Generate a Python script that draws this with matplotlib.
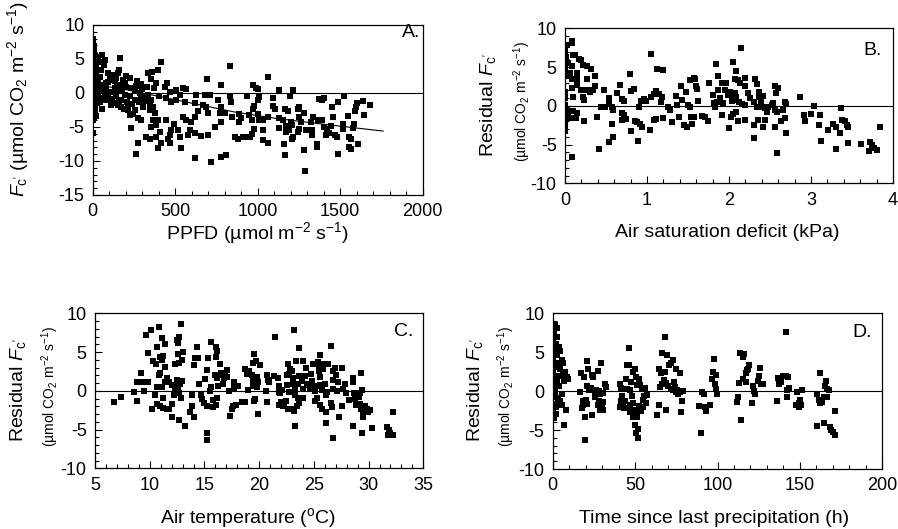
import matplotlib
matplotlib.use("Agg")
import matplotlib.pyplot as plt
from matplotlib.ticker import MultipleLocator

plt.rcParams["font.family"] = ["Liberation Sans", "DejaVu Sans"]
plt.rcParams["mathtext.fontset"] = "custom"
plt.rcParams["mathtext.rm"] = "Liberation Sans"
plt.rcParams["mathtext.it"] = "Liberation Sans:italic"
plt.rcParams["axes.unicode_minus"] = False

# ---- panel A: Fc' vs PPFD ----
ppfd = [3, 5, 2, 8, 4, 6, 10, 3, 12, 7,
        2, 15, 5, 9, 4, 18, 6, 11, 3, 20,
        8, 14, 2, 25, 5, 10, 7, 16, 3, 22,
        9, 4, 13, 6, 28, 2, 17, 8, 5, 12,
        3, 19, 7, 4, 24, 10, 6, 2, 14, 3,
        56, 72, 68, 167, 48, 103, 123, 157, 153, 204,
        224, 270, 295, 335, 361, 396, 416, 351, 386, 452,
        440, 466, 507, 547, 567, 527, 557, 472, 507, 446,
        400, 355, 365, 345, 376, 396, 365, 355, 386, 446,
        493, 517, 477, 547, 567, 598, 618, 638, 622, 668,
        689, 699, 628, 678, 709, 759, 779, 769, 800, 830,
        840, 844, 860, 779, 739, 699, 658, 618, 588, 577,
        527, 466, 406, 325, 345, 456, 386, 275, 260, 396,
        412, 466, 537, 618, 715, 779, 810, 230, 295, 275,
        224, 244, 174, 190, 153, 123, 109, 56, 210, 254,
        295, 315, 335, 305, 254, 214, 285, 254, 234, 204,
        174, 163, 133, 113, 93, 72, 62, 83, 103, 137,
        184, 194, 224, 143, 174, 83, 42, 32, 42, 32,
        42, 28, 36, 32,
        60, 78, 95, 118, 128, 148, 160, 178, 198, 212,
        238, 262, 280, 300, 318, 330, 348, 372, 90, 140,
        1060, 973, 989, 1127, 1215, 933, 1005, 999, 1090, 1195,
        1369, 1403, 1525, 1484, 1640, 1680, 1599, 1595, 1591, 1545,
        1646, 1448, 1458, 979, 973, 1094, 1106, 1163, 1181, 1242,
        1252, 1282, 888, 898, 888, 949, 965, 999, 1005, 1030,
        1060, 1131, 1151, 1201, 1252, 1262, 1322, 1337, 1363, 1389,
        1312, 1403, 1418, 1444, 1515, 1518, 1585, 1579, 1252, 1207,
        1171, 1131, 1171, 1191, 1242, 1292, 1329, 1034, 975, 878,
        908, 925, 953, 965, 1034, 1064, 1161, 1215, 1207, 1329,
        1357, 1357, 1413, 1434, 1470, 1478, 1551, 1565, 1555, 1565,
        1605, 1167, 1282, 1488, 1285, 690, 776, 830, 1000, 1390]
fc = [7.9, 7.5, 7.1, 6.9, 6.5, 6.2, 6.0, 5.7, 5.5, 5.2,
      4.9, 4.7, 4.4, 4.1, 3.8, 3.6, 3.3, 3.0, 2.7, 2.5,
      2.2, 1.9, 1.6, 1.4, 1.1, 0.8, 0.5, 0.3, 0.0, -0.2,
      -0.5, -0.8, -1.0, -1.3, -1.5, -1.8, -2.1, -2.3, -2.6, -2.9,
      -3.1, -3.4, -3.7, -4.0, 0.9, 2.0, -0.4, 1.2, 3.8, -5.9,
      5.6, 4.9, 4.1, 5.2, 3.4, 2.6, 2.6, 3.4, 2.9, 2.5,
      2.2, 1.7, 1.3, 2.9, 3.1, 3.4, 4.6, 2.0, 1.5, 1.5,
      0.9, 0.2, 0.4, 0.7, 0.6, -0.3, -1.3, -1.4, -1.0, -0.8,
      -0.5, -1.0, -2.0, -2.5, -3.0, -4.0, -4.0, -5.0, -4.7, -4.0,
      -4.5, -5.4, -5.4, -3.5, -4.0, -4.2, -3.5, -2.7, -1.5, -1.8,
      -2.0, -3.0, -0.3, -0.3, -0.3, -1.0, -2.0, -3.0, -3.0, -0.5,
      -1.3, -3.5, -6.4, -4.2, -5.0, -6.2, -6.3, -5.9, -5.4, -6.2,
      -6.5, -6.2, -5.7, -6.4, -6.7, -6.7, -6.4, -7.3, -8.9, -8.1,
      -7.3, -7.3, -8.1, -9.6, -10.2, -9.4, -9.1, -5.1, -3.9, -3.7,
      -3.2, -3.1, -2.1, -2.3, -1.8, -1.5, -1.8, -2.4, -1.3, -1.0,
      -0.8, -0.5, -0.3, -2.0, -2.5, -2.5, 0.0, 0.4, 0.7, 0.9,
      1.2, 0.4, 0.7, 0.2, -0.3, 0.2, 1.2, 1.4, 1.9, 1.7,
      1.9, -0.3, -0.5, -0.5, -1.0, -1.0, -1.3, -0.5, 0.4, 1.7,
      2.4, 3.4, 4.6, 5.3,
      -0.8, 0.9, 1.6, -0.9, 0.1, 1.0, -1.3, 0.3, 1.4, -1.8,
      -1.6, 1.0, -1.4, 0.6, -1.2, 0.9, -1.6, 0.7, 3.0, 2.2,
      2.3, 1.2, 0.7, 0.5, 0.5, -0.4, -0.6, -1.0, -0.8, -0.4,
      -0.9, -0.7, -0.5, -1.4, -1.2, -1.8, -1.5, -2.1, -2.7, -3.4,
      -3.2, -2.1, -3.6, -1.9, -2.4, -1.9, -2.4, -2.3, -2.7, -2.4,
      -2.1, -2.9, -3.1, -3.7, -4.2, -3.2, -3.9, -3.1, -4.0, -4.0,
      -3.5, -3.7, -4.0, -4.2, -3.6, -4.2, -4.2, -3.6, -3.9, -3.9,
      -5.4, -5.0, -5.3, -4.9, -4.6, -5.3, -4.5, -5.2, -5.3, -4.7,
      -4.9, -5.2, -5.7, -5.4, -5.7, -5.4, -5.4, -5.4, -5.3, -6.7,
      -6.5, -6.5, -6.4, -6.1, -6.9, -7.3, -7.5, -6.5, -6.8, -6.2,
      -7.5, -8.0, -6.2, -5.9, -6.2, -6.4, -6.5, -6.7, -8.0, -8.3,
      -7.5, -9.1, -8.4, -9.0, -11.5, 2.0, 1.2, 4.0, 0.6, -1.0]
fit_ppfd = [0, 200, 400, 600, 860, 1100, 1400, 1760]
fit_fc = [1.3, 0.5, -0.5, -1.5, -2.8, -3.7, -4.6, -5.6]

# ---- panel B: residual vs air saturation deficit ----
asd = [0.08, 0.09, 0.02, 0.0, 0.01, 0.10, 0.12, 0.04, 0.0, 0.0,
       0.02, 0.06, 0.09, 0.15, 0.15, 0.17, 0.19, 0.22, 0.27, 0.32,
       0.09, 0.36, 0.27, 0.15, 0.19, 0.22, 0.23, 0.27, 0.31, 0.37,
       0.34, 0.09, 0.10, 0.0, 0.0, 0.0, 0.02, 0.01, 0.0, 0.0,
       0.0, 0.04, 0.10, 0.15, 0.13, 0.06, 0.23, 0.08, 0.39, 0.48,
       0.44, 0.49, 0.54, 0.54, 0.57, 0.59, 0.57, 0.42, 0.54, 0.59,
       0.63, 0.67, 0.69, 0.72, 0.69, 0.72, 0.74, 0.69, 0.79, 0.80,
       0.84, 0.85, 0.88, 0.92, 0.94, 0.80, 0.89, 0.90, 0.93, 0.96,
       0.99, 1.05, 1.05, 1.09, 1.12, 1.11, 1.08, 1.11, 1.04, 1.19,
       1.15, 1.18, 1.17, 1.20, 1.26, 1.28, 1.30, 1.35, 1.37, 1.39,
       1.42, 1.43, 1.45, 1.47, 1.49, 1.50, 1.52, 1.53, 1.54, 1.55,
       1.57, 1.57, 1.58, 1.60, 1.61, 1.62, 1.67, 1.71, 1.74, 1.76,
       1.84, 1.81, 1.82, 1.83, 1.85, 1.87, 1.87, 1.89, 1.91, 1.91,
       1.93, 1.95, 2.15, 2.05, 2.08, 2.07, 2.11, 2.19, 2.13, 2.20,
       2.32, 2.34, 2.23, 1.96, 1.99, 2.01, 2.04, 2.07, 2.09, 2.03,
       2.08, 2.12, 2.16, 2.20, 2.26, 2.30, 2.37, 2.37, 2.42, 2.39,
       2.34, 2.40, 2.44, 2.46, 2.48, 2.52, 2.54, 2.56, 2.60, 2.57,
       2.56, 2.59, 2.68, 2.69, 2.63, 2.56, 2.70, 2.58, 2.31, 2.41,
       2.44, 2.35, 2.30, 2.19, 2.11, 2.02, 2.05, 2.09, 2.00, 2.68,
       2.66, 2.87, 3.04, 2.92, 2.93, 3.00, 3.11, 3.10, 3.12, 3.21,
       3.27, 3.31, 3.35, 3.37, 3.38, 3.41, 3.44, 3.45, 3.31, 3.45,
       3.61, 3.72, 3.74, 3.77, 3.71, 3.80, 3.84]
res_b = [8.4, 8.1, 7.8, 7.1, 6.3, 6.6, 6.6, 5.5, 4.8, 4.0,
         3.8, 4.2, 3.5, 4.2, 3.5, 6.1, 5.9, 5.3, 5.1, 4.8,
         5.1, 3.9, 3.4, 2.7, 2.0, 1.2, 0.8, 2.0, 1.8, 2.5,
         2.0, 2.3, 1.2, 1.8, 1.0, 0.1, -0.5, -1.2, -1.8, -2.5,
         -3.3, -0.9, -0.7, -0.9, -1.6, -1.6, -2.0, -6.6, -1.5, 2.0,
         -0.1, -0.2, 1.0, 0.2, -0.1, -0.5, -2.3, -5.6, -4.7, -4.0,
         1.6, 2.7, 0.9, 0.6, -0.9, -1.2, -1.7, -1.8, 4.1, 1.9,
         2.2, -1.9, -2.1, -2.4, -2.7, -3.3, -4.6, -0.1, 0.6, 0.9,
         0.6, 6.7, 1.1, 1.5, 4.8, 1.9, -1.8, -1.7, -3.1, 4.6,
         1.5, 1.2, 0.5, -1.6, -0.1, -0.5, -2.1, 1.3, 0.1, -1.5,
         2.5, 0.7, -2.5, 1.8, -2.7, 0.1, 3.3, -0.1, -1.4, -2.4,
         3.6, -1.4, 3.5, 2.5, 2.2, 0.6, -1.3, -1.5, -2.0, 2.9,
         5.4, 1.4, 0.3, -0.1, 0.5, 3.8, 2.0, 1.0, 3.0, -1.2,
         0.3, 2.0, 7.5, 5.7, 4.5, 3.5, 3.3, 3.6, 2.9, 2.5,
         3.5, 2.8, 1.6, 2.9, 1.4, 1.8, 1.4, 1.6, 1.2, 0.6,
         0.8, 0.5, 0.2, 0.1, 1.0, 0.5, 1.8, 1.2, 1.3, 0.5,
         -0.1, -0.1, -0.3, -0.8, -0.1, 0.1, 0.3, 2.5, 2.3, 1.6,
         -0.5, -0.8, 0.5, 0.2, -1.9, -2.8, -3.5, -6.1, -4.2, -2.7,
         -1.8, -1.8, -2.5, -1.8, -1.9, -1.5, -1.0, -0.8, -2.9, -1.6,
         -0.5, 1.2, 0.0, -1.2, -2.0, -1.0, -1.2, -2.5, -4.6, -3.1,
         -2.4, -2.7, -3.5, -0.3, -1.8, -1.9, -2.5, -2.7, -5.6, -4.8,
         -4.9, -4.7, -5.1, -5.4, -5.8, -5.7, -2.7]

# ---- panel C: residual vs air temperature ----
tair = [6.74, 7.35, 8.81, 8.57, 8.87, 9.42, 9.88, 9.18, 9.48, 9.67,
        10.12, 10.88, 9.88, 11.1, 10.7, 11.4, 10.34, 10.58, 10.95, 11.1,
        11.25, 11.4, 10.95, 10.88, 10.64, 11.1, 11.4, 11.6, 11.8, 12.0,
        10.49, 11.25, 10.64, 10.18, 10.95, 11.25, 11.55, 11.8, 12.0, 12.0,
        12.2, 12.32, 12.4, 12.47, 12.62, 12.77, 12.7, 12.84, 12.93, 12.62,
        12.32, 12.7, 12.93, 13.0, 12.47, 12.56, 12.7, 12.84, 12.7, 13.23,
        13.84, 13.69, 14.0, 13.84, 14.0, 14.15, 14.45, 14.36, 14.54, 14.76,
        14.66, 14.97, 15.21, 15.27, 15.27, 15.06, 15.21, 15.36, 15.52, 15.58,
        15.61, 15.76, 15.82, 16.07, 16.07, 16.19, 16.07, 16.0, 16.19, 16.28,
        16.43, 16.5, 16.74, 16.89, 16.74, 16.8, 17.1, 17.04, 17.2, 16.19,
        17.29, 17.5, 17.65, 17.9, 17.71, 17.71, 18.11, 18.4, 18.7, 19.0,
        18.7, 18.87, 19.1, 19.33, 19.48, 19.54, 19.54, 19.48, 19.42, 20.1,
        19.7, 21.44, 23.18, 23.66, 26.53, 25.55, 19.82, 19.91, 19.76, 19.6,
        20.74, 20.67, 19.91, 20.74, 20.83, 20.92, 21.35, 21.74, 21.83, 21.83,
        21.9, 22.05, 21.96, 21.83, 22.14, 22.26, 22.44, 22.66, 22.75, 22.5,
        22.5, 22.66, 22.81, 22.96, 22.75, 23.05, 23.1, 23.27, 23.27, 23.36,
        23.05, 23.18, 23.42, 23.27, 23.57, 23.66, 23.57, 23.66, 23.88, 24.03,
        23.97, 23.97, 24.18, 24.27, 24.33, 24.49, 24.64, 24.7, 24.79, 24.94,
        25.0, 25.1, 25.1, 25.19, 25.25, 25.4, 25.49, 25.49, 25.55, 25.55,
        25.7, 25.6, 25.7, 25.86, 25.92, 26.01, 26.1, 26.1, 26.22, 26.32,
        26.1, 26.53, 26.62, 26.71, 26.77, 26.77, 26.93, 27.02, 27.14, 27.23,
        27.32, 26.77, 27.54, 27.54, 27.69, 27.84, 27.93, 28.24, 28.54, 28.6,
        28.6, 28.66, 28.75, 28.85, 29.15, 29.21, 29.27, 29.36, 29.27, 29.21,
        29.46, 29.36, 29.52, 29.67, 29.82, 29.97, 30.13, 30.28, 31.71, 31.9,
        31.8, 32.2, 32.2, 32.0]
res_c = [-1.4, -0.8, -1.3, -0.1, 1.1, 1.1, 1.2, 2.3, 0.0, 7.2,
         7.9, 8.2, 4.9, 6.8, 5.7, 6.0, 3.8, 3.5, 4.4, 4.0,
         4.5, 3.1, 2.3, 2.0, 0.5, 0.5, 1.2, 1.6, 1.2, 0.8,
         -0.6, -0.9, -1.7, -2.3, -2.0, -2.2, -2.3, -2.3, -1.7, -3.4,
         -0.6, 0.1, 0.8, 1.4, 0.5, 0.9, -0.3, -0.9, 1.3, 4.7,
         3.5, 3.6, 4.0, 5.0, 6.5, 6.2, 6.9, 8.6, -3.8, -4.5,
         -2.0, -2.7, -3.4, -0.6, 3.3, 4.2, 4.2, 5.7, 0.9, -1.1,
         -0.5, -1.6, -1.9, -5.5, -6.4, 1.5, 2.7, 4.3, 0.0, 0.5,
         6.3, -1.2, -2.1, -1.8, 5.6, 5.1, 4.4, 2.0, 1.6, 0.6,
         3.5, 2.3, 2.1, 2.2, 0.9, 1.6, 2.7, 1.8, 0.0, -0.9,
         -3.2, -2.4, -1.9, -1.8, 0.4, 1.2, 0.6, -1.5, -1.5, 0.1,
         2.8, 2.2, 2.5, 2.0, 3.6, 4.8, -1.3, 1.3, 0.6, 3.3,
         3.9, 6.9, 7.8, 5.5, 5.8, 4.6, 1.8, 1.1, 0.5, -1.1,
         -1.4, 0.0, -3.0, 2.0, 1.4, 1.1, 1.9, 1.6, 0.6, -0.1,
         -0.3, 0.1, -1.4, -1.8, -1.9, -1.7, -1.3, -2.3, -0.1, 0.8,
         2.0, 3.5, 2.8, 2.5, 2.2, 1.6, 0.9, 0.1, -0.6, 3.9,
         -2.4, -2.6, -2.0, -4.5, -0.9, -1.6, 0.9, 1.9, 1.3, 3.8,
         0.2, -0.9, 1.9, 3.0, 0.8, 0.9, 0.3, 2.2, 1.3, 3.5,
         0.5, 0.0, -1.3, 0.6, -0.9, 3.7, 3.1, 2.5, 1.8, 0.8,
         0.1, -1.8, -2.4, 2.8, 3.4, 0.9, -0.6, -2.7, -0.1, 3.5,
         -4.1, -1.6, -2.1, 0.3, 1.4, 2.5, 2.9, 2.0, 0.0, 1.1,
         -3.4, -6.1, 3.0, -1.9, 0.3, 0.9, -0.3, -1.2, -4.5, 1.2,
         1.6, -0.3, -1.1, -1.8, -0.8, -0.3, 2.3, 0.1, -2.4, -1.7,
         -2.6, -5.5, -3.4, -2.0, -2.3, -2.7, -2.5, -4.8, -4.7, -5.1,
         -5.7, -5.7, -2.7, -5.4]

# ---- panel D: residual vs time since last precipitation ----
tsp = [1.4, 2.4, 0.8, 2.8, 0.2, 2.0, 4.0, 0.8, 4.4, 2.4,
       0.2, 5.4, 3.4, 6.4, 1.4, 4.4, 7.5, 0.4, 6.0, 8.5,
       9.5, 2.4, 6.9, 0.2, 4.0, 1.4, 0.2, 3.4, 0.8, 5.4,
       8.1, 0.2, 2.0, 0.8, 6.9, 5.4, 4.4, 0.3, 0.4, 1.0,
       2.0, 3.0, 1.5,
       20.6, 17.0, 19.2, 21.6, 23.6, 24.7, 27.7, 29.3, 21.0, 22.2,
       23.0, 25.7, 26.3, 28.3, 28.7, 30.3, 31.7, 32.3, 16.6, 18.6,
       20.2, 18.2, 17.6, 20.6, 19.6, 23.6, 25.7, 28.3, 27.7, 29.1,
       29.7, 30.3, 28.7, 30.7, 19.6,
       40.8, 41.2, 41.9, 41.2, 40.8, 42.5, 43.9, 43.3, 44.9, 44.5,
       44.9, 46.5, 46.3, 44.9, 46.9, 47.3, 47.9, 48.5, 46.9, 47.9,
       46.9, 48.9, 49.9, 50.6, 51.4, 52.6, 53.0, 54.0, 56.0, 55.4,
       56.6, 55.0, 54.6, 52.6, 51.4, 49.9, 48.5, 51.4, 53.0, 49.9,
       52.0, 50.6, 52.0, 53.4, 57.4,
       68.2, 66.1, 69.2, 64.7, 65.5, 68.2, 70.8, 71.6, 73.2, 74.8,
       77.3, 67.5, 68.8, 70.2, 65.1, 66.1, 71.6, 73.2, 74.8, 76.2,
       77.3, 78.9, 75.6, 73.6, 74.2, 64.7, 68.8, 63.5, 78.3, 77.7,
       88.7, 90.8, 91.6, 92.2, 92.8, 95.6, 90.2, 97.6, 97.2, 98.9,
       96.8, 98.3, 98.9, 99.7, 113.8, 115.4, 115.9, 113.0, 115.4, 117.1,
       117.5, 118.1, 119.1, 118.5, 112.4, 112.0, 114.4, 121.1, 121.9, 122.5,
       121.5, 124.5, 125.2, 126.0, 126.6, 127.6, 141.3, 136.1, 136.7, 138.1,
       137.3, 138.7, 139.7, 141.3, 142.8, 142.2, 143.4, 142.2, 148.2, 147.8,
       149.4, 150.2, 150.9, 149.4, 151.5, 160.4, 162.0, 161.6, 162.4, 163.6,
       164.4, 165.0, 166.0, 166.4, 167.6, 166.4, 160.4, 164.4, 168.4, 169.1,
       170.1, 171.1, 171.1]
res_d = [8.5, 8.1, 7.4, 7.0, 6.6, 6.1, 5.7, 5.5, 5.1, 4.6,
         4.4, 4.0, 3.6, 3.6, 3.1, 2.9, 2.5, 2.3, 2.1, 1.8,
         1.6, 1.4, 1.3, 0.8, 0.6, -0.1, -0.7, -0.9, -1.6, -1.8,
         -2.4, -2.4, -2.9, -3.4, -4.4, -0.4, -1.2, 1.8, 3.6, 5.0,
         -2.0, 2.0, 0.3,
         3.9, 2.3, 1.8, 2.8, 2.1, 1.8, 2.6, 3.6, 0.6, 0.1,
         0.4, -0.1, 0.1, 0.0, -0.3, -0.2, 0.9, 0.5, -0.1, -1.2,
         -1.1, -1.8, -2.2, -1.6, -3.3, -3.0, -0.8, -1.2, -1.8, -1.7,
         -2.2, -2.4, -2.4, -1.4, -6.3,
         0.9, 0.4, -0.6, -1.2, -2.0, -1.8, -1.2, -2.2, -2.2, 1.6,
         3.3, 3.4, 5.6, 0.3, 0.1, 1.2, -0.6, -1.5, -1.8, -2.4,
         -2.7, 2.5, 2.9, 1.8, 0.8, 1.6, 0.8, 0.3, 0.4, -0.6,
         -1.5, -1.1, -2.0, -1.9, -2.4, -2.9, -3.3, -3.3, -2.4, -4.4,
         -4.8, -5.4, -6.0, -2.5, -0.5,
         6.9, 4.9, 4.6, 2.9, 2.3, 2.5, 3.3, 3.6, 4.0, 2.9,
         2.3, 1.4, 1.0, 0.6, 0.5, 0.9, 0.3, 0.1, -0.1, -0.4,
         -0.1, 0.0, 0.1, 1.2, 0.5, -1.8, -2.4, -3.1, -1.3, -2.7,
         -1.9, -0.1, -0.4, -2.0, -2.5, -1.8, -5.4, 4.1, 2.5, 2.1,
         1.6, 0.9, 0.3, -0.3, 4.9, 4.4, 4.8, 1.1, 1.6, 1.2,
         2.3, 2.7, 3.4, 2.9, -0.8, -1.4, -3.7, -1.5, 0.0, -0.3,
         0.6, 1.3, 1.9, 3.0, 0.9, 0.9, 7.6, -1.3, 1.7, 1.6,
         0.9, 1.2, 1.9, 2.0, 1.8, 0.1, 0.4, -0.7, -0.1, -1.8,
         -1.5, -1.1, -1.8, -2.0, 0.1, -0.3, 2.3, -1.1, -1.5, -1.4,
         -0.8, 0.6, 1.3, 0.3, 0.1, -0.8, -4.5, -4.1, -4.6, -5.0,
         -5.3, -5.6, -2.5]

ylab_big = r"Residual $F_{\mathrm{c}^{\prime}}$"
ylab_small = r"(µmol CO$_2$ m$^{-2}$ s$^{-1}$)"


def style(ax, xmaj, xmin, ymaj, ymin):
    ax.xaxis.set_major_locator(MultipleLocator(xmaj))
    ax.xaxis.set_minor_locator(MultipleLocator(xmin))
    ax.yaxis.set_major_locator(MultipleLocator(ymaj))
    ax.yaxis.set_minor_locator(MultipleLocator(ymin))
    ax.tick_params(which="both", direction="in", top=False, right=False,
                   labelsize=13, pad=6, width=0.8)
    ax.tick_params(which="major", length=5)
    ax.tick_params(which="minor", length=3)
    for sp in ax.spines.values():
        sp.set_linewidth(0.9)


fig = plt.figure(figsize=(8.98, 5.29), dpi=100)
ax_a = fig.add_axes([0.1032, 0.6314, 0.3675, 0.3214])
ax_b = fig.add_axes([0.6292, 0.6535, 0.3653, 0.2930])
ax_c = fig.add_axes([0.1058, 0.1147, 0.3656, 0.2930])
ax_d = fig.add_axes([0.6155, 0.1134, 0.3670, 0.2943])

mk = dict(marker="s", s=16, color="black", linewidths=0, zorder=3)

# A
ax_a.scatter(ppfd, fc, **mk)
ax_a.axhline(0, color="black", lw=0.8)
ax_a.plot(fit_ppfd, fit_fc, color="black", lw=0.8)
ax_a.set_xlim(0, 2000)
ax_a.set_ylim(-15, 10)
style(ax_a, 500, 100, 5, 1)
ax_a.text(0.5, -0.225, "PPFD (µmol m$^{-2}$ s$^{-1}$)", transform=ax_a.transAxes,
          ha="center", va="center", fontsize=14)
ax_a.text(-0.226, 0.565, r"$F_{\mathrm{c}^{\prime}}$ (µmol CO$_2$ m$^{-2}$ s$^{-1}$)",
          transform=ax_a.transAxes, rotation=90, ha="center", va="center", fontsize=14)
ax_a.text(0.966, 0.955, "A.", transform=ax_a.transAxes, ha="center", va="center", fontsize=14)

# B
ax_b.scatter(asd, res_b, **mk)
ax_b.axhline(0, color="black", lw=0.8)
ax_b.set_xlim(0, 4)
ax_b.set_ylim(-10, 10)
style(ax_b, 1, 0.2, 5, 1)
ax_b.text(0.494, -0.32, "Air saturation deficit (kPa)", transform=ax_b.transAxes,
          ha="center", va="center", fontsize=14)
ax_b.text(0.939, 0.86, "B.", transform=ax_b.transAxes, ha="center", va="center", fontsize=14)

# C
ax_c.scatter(tair, res_c, **mk)
ax_c.axhline(0, color="black", lw=0.8)
ax_c.set_xlim(5, 35)
ax_c.set_ylim(-10, 10)
style(ax_c, 5, 1, 5, 1)
ax_c.text(0.467, -0.32, r"Air temperature ($^{\mathrm{o}}$C)", transform=ax_c.transAxes,
          ha="center", va="center", fontsize=14)
ax_c.text(0.939, 0.88, "C.", transform=ax_c.transAxes, ha="center", va="center", fontsize=14)

# D
ax_d.scatter(tsp, res_d, **mk)
ax_d.axhline(0, color="black", lw=0.8)
ax_d.set_xlim(0, 200)
ax_d.set_ylim(-10, 10)
style(ax_d, 50, 10, 5, 1)
ax_d.text(0.49, -0.315, "Time since last precipitation (h)", transform=ax_d.transAxes,
          ha="center", va="center", fontsize=14)
ax_d.text(0.938, 0.88, "D.", transform=ax_d.transAxes, ha="center", va="center", fontsize=14)

# two-line residual y labels
for ax, xb, xs in [(ax_b, -0.235, -0.132), (ax_c, -0.235, -0.137), (ax_d, -0.236, -0.14)]:
    ax.text(xb, 0.505, ylab_big, transform=ax.transAxes, rotation=90,
            ha="center", va="center", fontsize=14)
    ax.text(xs, 0.53, ylab_small, transform=ax.transAxes, rotation=90,
            ha="center", va="center", fontsize=10)

fig.savefig("out.png", dpi=100)
